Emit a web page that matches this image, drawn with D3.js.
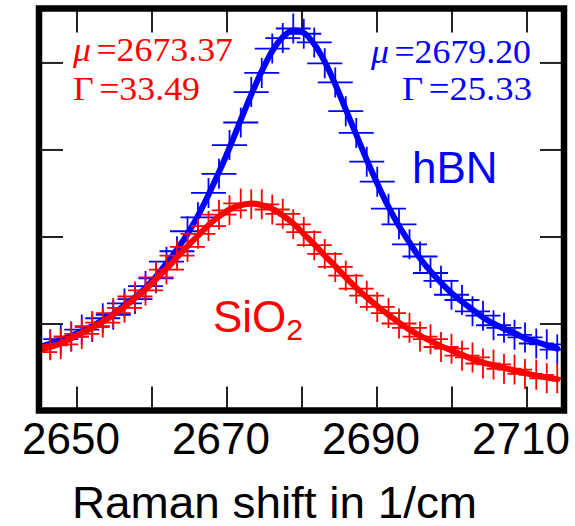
<!DOCTYPE html>
<html><head><meta charset="utf-8">
<script src="https://cdn.jsdelivr.net/npm/d3@7"></script>
<style>html,body{margin:0;padding:0;background:#fff;} svg{display:block;}</style>
</head><body><svg id="c" width="575" height="526"></svg>
<script>
// Raman shift (1/cm) of the measured points
const ramanShift = [2645.1,2646.5,2647.9,2649.3,2650.7,2652.1,2653.5,2654.9,2656.4,2657.8,
  2659.2,2660.6,2662.0,2663.4,2664.8,2666.2,2667.6,2669.0,2670.4,2671.9,
  2673.3,2674.7,2676.1,2677.5,2678.9,2680.3,2681.7,2683.1,2684.5,2685.9,
  2687.3,2688.7,2690.1,2691.6,2693.0,2694.4,2695.8,2697.2,2698.6,2700.0,
  2701.4,2702.8,2704.2,2705.6,2707.0,2708.4,2709.8,2711.3,2712.7,2714.1];
// hBN: fitted curve and measured points (arb. units)
const hbnFit = [0.73,0.77,0.81,0.86,0.91,0.97,1.04,1.11,1.21,1.30,
  1.41,1.54,1.69,1.85,2.03,2.24,2.48,2.74,3.02,3.34,
  3.63,3.90,4.13,4.29,4.37,4.34,4.21,4.01,3.75,3.46,
  3.17,2.88,2.61,2.34,2.12,1.93,1.75,1.60,1.47,1.35,
  1.25,1.16,1.07,1.00,0.94,0.89,0.83,0.79,0.75,0.71];
const hbnMeasured = [0.74,0.76,0.82,0.85,0.93,0.96,1.06,1.10,1.23,1.28,
  1.43,1.52,1.71,1.83,2.06,2.22,2.50,2.72,3.05,3.31,
  3.66,3.88,4.16,4.28,4.39,4.33,4.23,3.99,3.77,3.44,
  3.19,2.86,2.63,2.32,2.14,1.91,1.77,1.58,1.49,1.33,
  1.27,1.14,1.09,0.98,0.95,0.87,0.84,0.77,0.76,0.70];
// SiO2: fitted curve and measured points (arb. units)
const sio2Fit = [0.69,0.73,0.77,0.83,0.89,0.95,1.02,1.10,1.19,1.29,
  1.39,1.51,1.63,1.76,1.89,2.01,2.13,2.23,2.31,2.36,
  2.38,2.36,2.32,2.24,2.15,2.03,1.91,1.78,1.66,1.53,
  1.41,1.30,1.20,1.10,1.01,0.93,0.86,0.80,0.74,0.69,
  0.64,0.59,0.55,0.52,0.49,0.46,0.43,0.40,0.38,0.36];
const sio2Measured = [0.67,0.75,0.76,0.85,0.88,0.97,1.01,1.12,1.18,1.31,
  1.38,1.53,1.62,1.78,1.88,2.03,2.12,2.25,2.30,2.38,
  2.37,2.37,2.31,2.26,2.14,2.05,1.90,1.80,1.65,1.55,
  1.40,1.32,1.19,1.12,1.00,0.95,0.85,0.82,0.73,0.71,
  0.63,0.61,0.54,0.53,0.48,0.47,0.42,0.41,0.37,0.37];

const xTicks = [2650,2660,2670,2680,2690,2700,2710];
const xTickLabels = ["2650","","2670","","2690","","2710"];
const yTicks = [1,2,3,4];
const xTitle = "Raman shift in 1/cm";
const sio2Params = [["μ","=2673.37"],["Γ","=33.49"]];
const hbnParams = [["μ","=2679.20"],["Γ","=25.33"]];
const seriesNames = ["hBN","SiO","2"];

const svg = d3.select("#c");
const L = 39, R = 564, T = 8.5, B = 410.5;
const x = d3.scaleLinear().domain([2645,2715]).range([L,R]);
const y = d3.scaleLinear().domain([0,4.62]).range([B,T]);

function styleAxis(g){
  g.select(".domain").remove();
  g.selectAll(".tick line").attr("stroke","#222").attr("stroke-width",2);
}
svg.append("g").attr("transform",`translate(0,${B})`)
  .call(d3.axisBottom(x).tickValues(xTicks).tickFormat((d,i)=>xTickLabels[i]).tickSizeInner(-24).tickSizeOuter(0).tickPadding(12.5))
  .call(styleAxis)
  .call(g=>g.selectAll("text").attr("font-family","Liberation Sans, Arial, sans-serif").attr("font-size",44).attr("fill","#000").attr("dx",-6));
svg.append("g").attr("transform",`translate(0,${T})`)
  .call(d3.axisTop(x).tickValues(xTicks).tickFormat("").tickSizeInner(-24).tickSizeOuter(0)).call(styleAxis);
svg.append("g").attr("transform",`translate(${L},0)`)
  .call(d3.axisLeft(y).tickValues(yTicks).tickFormat("").tickSizeInner(-24).tickSizeOuter(0)).call(styleAxis);
svg.append("g").attr("transform",`translate(${R},0)`)
  .call(d3.axisRight(y).tickValues(yTicks).tickFormat("").tickSizeInner(-24).tickSizeOuter(0)).call(styleAxis);

svg.append("defs").append("clipPath").attr("id","clip")
  .append("rect").attr("x",L).attr("y",T).attr("width",R-L).attr("height",B-T);
const plot = svg.append("g").attr("clip-path","url(#clip)");

const line = d3.line().x((d,i)=>x(ramanShift[i])).y(d=>y(d)).curve(d3.curveMonotoneX);
const cross = "M-17.5,0H17.5M0,-15V15";
function drawSeries(meas, fit, color){
  plot.append("g").selectAll("path").data(meas).join("path")
    .attr("d",cross)
    .attr("transform",(d,i)=>`translate(${x(ramanShift[i])},${y(d)})`)
    .attr("stroke",color).attr("stroke-width",1.8).attr("fill","none");
  plot.append("path").datum(fit).attr("d",line)
    .attr("fill","none").attr("stroke",color).attr("stroke-width",6)
    .attr("stroke-linejoin","round").attr("stroke-linecap","round");
}
drawSeries(hbnMeasured, hbnFit, "#0000ff");
drawSeries(sio2Measured, sio2Fit, "#ff0000");

svg.append("rect").attr("x",L).attr("y",T).attr("width",R-L).attr("height",B-T)
  .attr("fill","none").attr("stroke","#000").attr("stroke-width",6.5);

function paramText(p, px, py, anchor, color, len){
  const t = svg.append("text").attr("x",px).attr("y",py).attr("text-anchor",anchor)
    .attr("font-family","Liberation Serif, Times New Roman, serif").attr("font-size",33)
    .attr("fill",color).attr("textLength",len).attr("lengthAdjust","spacingAndGlyphs");
  t.append("tspan").attr("font-style", p[0]==="μ" ? "italic" : "normal").text(p[0]);
  t.append("tspan").attr("dx",5).text(p[1]);
}
paramText(sio2Params[0], 73, 61, "start", "#ff0000", 160);
paramText(sio2Params[1], 73, 100, "start", "#ff0000", 127);
paramText(hbnParams[0], 531, 63, "end", "#0000ff", 160);
paramText(hbnParams[1], 532, 100, "end", "#0000ff", 130);

svg.append("text").attr("x",412).attr("y",183)
  .attr("font-family","Liberation Sans, Arial, sans-serif").attr("font-size",44)
  .attr("fill","#0000ff").text(seriesNames[0]);
const s = svg.append("text").attr("x",213).attr("y",332)
  .attr("font-family","Liberation Sans, Arial, sans-serif").attr("font-size",44)
  .attr("fill","#ff0000");
s.append("tspan").text(seriesNames[1]);
s.append("tspan").attr("font-size",30).attr("dy",8).text(seriesNames[2]);

svg.append("text").attr("x",72).attr("y",518)
  .attr("font-family","Liberation Sans, Arial, sans-serif").attr("font-size",44)
  .attr("textLength",405).attr("lengthAdjust","spacingAndGlyphs")
  .attr("fill","#000").text(xTitle);
</script></body></html>
